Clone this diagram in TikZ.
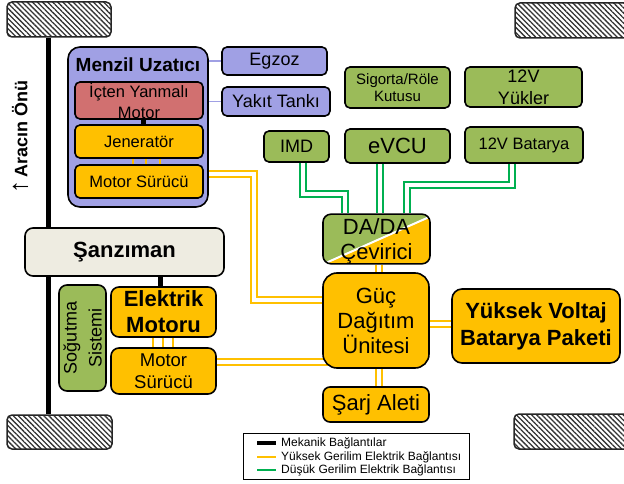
\documentclass[tikz,border=0pt]{standalone}
\usepackage{fontspec}
\setmainfont{Liberation Sans}
\usetikzlibrary{patterns.meta,calc}

\definecolor{menzilmor}{RGB}{160,160,228}
\definecolor{motorkirmizi}{RGB}{209,112,112}
\definecolor{turuncu}{RGB}{255,192,0}
\definecolor{yesil}{RGB}{155,187,89}
\definecolor{bej}{RGB}{238,236,225}
\definecolor{hatyesil}{RGB}{0,176,80}

\newcommand{\fs}[2]{\fontsize{#1}{#2}\selectfont}

\pgfdeclarelayer{arka}
\pgfdeclarelayer{hatlar}
\pgfsetlayers{arka,hatlar,main}

\begin{document}
\begin{tikzpicture}[x=1pt, y=-1pt,
    kutu/.style={draw=black, line width=1.6pt, rounded corners=5pt, inner sep=0pt, align=center},
    tekerlek/.style={draw=black!85, line width=1.5pt, rounded corners=5pt, pattern={Lines[angle=-45,distance=3.6pt,line width=1.3pt]}, pattern color=black!80},
    mekanik/.style={draw=black, line width=5pt},
    ygbag/.style={draw=turuncu, line width=2pt, double=white, double distance=4pt},
    dgbag/.style={draw=hatyesil, line width=2pt, double=white, double distance=4pt},
    morbag/.style={draw=menzilmor, line width=1.8pt},
    ucfaz/.style={draw=turuncu, line width=2pt},
  ]

  \useasboundingbox (0,0) rectangle (624,484);

  % Tekerlekler
  \begin{scope}
    \clip (0,0) rectangle (624,484);
    \node[tekerlek, minimum width=104pt, minimum height=35pt] (tekSolUst) at (59,19.5) {};
    \node[tekerlek, minimum width=135pt, minimum height=35pt] (tekSagUst) at (582.5,20.5) {};
    \node[tekerlek, minimum width=105pt, minimum height=34pt] (tekSolAlt) at (59.5,432) {};
    \node[tekerlek, minimum width=136pt, minimum height=35pt] (tekSagAlt) at (582,431.5) {};
  \end{scope}

  \node[rotate=90, font=\bfseries\fs{18}{20}] (aracOnu) at (20,137) {{\fs{26}{20}↑}\,Aracın Önü};

  % Menzil uzatici
  \begin{pgfonlayer}{arka}
    \node[kutu, fill=menzilmor, rounded corners=12pt, minimum width=140pt, minimum height=160pt] (menzil) at (138,127) {};
  \end{pgfonlayer}
  \node[font=\bfseries\fs{19}{21}] (menzilBaslik) at (138,65) {Menzil Uzatıcı};
  \node[kutu, fill=motorkirmizi, minimum width=128pt, minimum height=37pt, font=\fs{16.5}{21}] (icm) at (139,100.5) {İçten Yanmalı\\Motor};
  \node[kutu, fill=turuncu, minimum width=128pt, minimum height=33pt, font=\fs{16.5}{19}] (jen) at (139,141.5) {Jeneratör};
  \node[kutu, fill=turuncu, minimum width=128pt, minimum height=33pt, font=\fs{16.5}{19}] (msA) at (139,181.5) {Motor Sürücü};

  \node[kutu, fill=menzilmor, minimum width=105pt, minimum height=28pt, font=\fs{18}{20}] (egzoz) at (274.5,61) {Egzoz};
  \node[kutu, fill=menzilmor, minimum width=108pt, minimum height=29pt, font=\fs{18}{20}] (yakit) at (276,101.5) {Yakıt Tankı};

  % Dusuk gerilim kutulari
  \node[kutu, fill=yesil, minimum width=105pt, minimum height=41pt, font=\fs{15}{17}] (sigorta) at (397.5,87.5) {Sigorta/Röle\\Kutusu};
  \node[kutu, fill=yesil, minimum width=117pt, minimum height=40pt, font=\fs{18}{22}] (yukler) at (523.5,87) {12V\\Yükler};
  \node[kutu, fill=yesil, minimum width=65pt, minimum height=31pt, font=\fs{18}{20}] (imd) at (296.5,146.5) {IMD};
  \node[kutu, fill=yesil, minimum width=105pt, minimum height=34pt, font=\fs{22}{24}] (evcu) at (397.5,146) {eVCU};
  \node[kutu, fill=yesil, minimum width=118pt, minimum height=36pt, font=\fs{16.5}{19}] (bat12) at (524,145) {12V Batarya};

  % Yuksek gerilim kutulari
  \node[kutu, fill=yesil, rounded corners=8pt, minimum width=107pt, minimum height=48pt, font=\fs{22}{25},
    path picture={
      \fill[turuncu] ($(path picture bounding box.center)+(-98,45)$) -- ($(path picture bounding box.center)+(100,-43)$)
        -- ($(path picture bounding box.center)+(100,45)$) -- cycle;
      \draw[white, line width=2pt] ($(path picture bounding box.center)+(-98,45)$) -- ($(path picture bounding box.center)+(100,-43)$);
    }] (dada) at (376.5,239) {\rule{0pt}{20pt}DA/DA\\Çevirici};
  \node[kutu, fill=turuncu, rounded corners=14pt, minimum width=106pt, minimum height=95pt, font=\fs{22}{25}] (gdu) at (376,320.5) {Güç\\Dağıtım\\Ünitesi};
  \node[kutu, fill=turuncu, rounded corners=10pt, minimum width=168pt, minimum height=74pt, font=\bfseries\fs{22}{27}] (yvbp) at (536,326) {Yüksek Voltaj\\Batarya Paketi};
  \node[kutu, fill=turuncu, rounded corners=7pt, minimum width=106pt, minimum height=35pt, font=\fs{22}{24}] (sarj) at (376,404.5) {Şarj Aleti};

  % Aktarma organlari
  \node[kutu, fill=bej, rounded corners=8pt, minimum width=199pt, minimum height=48pt, font=\bfseries\fs{22}{24}] (sanz) at (124.5,252) {Şanzıman};
  \node[kutu, fill=yesil, rounded corners=8pt, rotate=90, minimum width=106pt, minimum height=47pt, font=\fs{18}{25}] (sogutma) at (82.5,338) {Soğutma\\Sistemi};
  \node[kutu, fill=turuncu, rounded corners=8pt, minimum width=105pt, minimum height=50pt, font=\bfseries\fs{22}{26}] (emotor) at (163.5,312) {Elektrik\\Motoru};
  \node[kutu, fill=turuncu, rounded corners=8pt, minimum width=105pt, minimum height=46pt, font=\fs{18.5}{22}] (msB) at (163.5,371) {Motor\\Sürücü};

  % Baglantilar
  \begin{pgfonlayer}{hatlar}
    \draw[mekanik] (48.5,0 |- tekSolUst.south) -- (48.5,0 |- tekSolAlt.north);
    \draw[mekanik] (sanz.south -| 160,0) -- (emotor.north -| 160,0);
    \draw[mekanik] (icm.south -| 143,0) -- (jen.north -| 143,0);

    \draw[morbag] (menzil.east |- egzoz.west) -- (egzoz.west);
    \draw[morbag] (menzil.east |- yakit.west) -- (yakit.west);

    \foreach \fx in {133,146,160}
      \draw[ucfaz] (jen.south -| \fx,0) -- (msA.north -| \fx,0);
    \foreach \fx in {153,163,173}
      \draw[ucfaz] (emotor.south -| \fx,0) -- (msB.north -| \fx,0);

    \draw[ygbag] (menzil.east |- 0,174.5) -| (254,299.5) -- (gdu.center |- 0,299.5);
    \draw[ygbag] (msB.east |- 0,362) -- (gdu.center |- 0,362);
    \draw[ygbag] (gdu.center |- 0,324) -- (yvbp.west |- 0,324);
    \draw[ygbag] (gdu.center -| 378.5,0) -- (sarj.north -| 378.5,0);
    \draw[ygbag] (dada.south -| 378.5,0) -- (gdu.center -| 378.5,0);

    \draw[dgbag] (imd.south -| 302.5,0) |- (345,194) -- (dada.north -| 345,0);
    \draw[dgbag] (evcu.south -| 380,0) -- (dada.north -| 380,0);
    \draw[dgbag] (bat12.south -| 511.5,0) |- (406.5,185) -- (dada.north -| 406.5,0);
  \end{pgfonlayer}

  % Lejant
  \node[draw=black, line width=0.8pt, minimum width=226pt, minimum height=46pt, inner sep=0pt] (lejant) at (356,456) {};
  \foreach \ly/\lrenk/\lkal/\lmetin [count=\li] in {443/black/4pt/Mekanik Bağlantılar,
      457/turuncu/1.5pt/Yüksek Gerilim Elektrik Bağlantısı,
      470/hatyesil/1.5pt/Düşük Gerilim Elektrik Bağlantısı}{
    \coordinate (lejBas\li) at (257,\ly);
    \coordinate (lejSon\li) at (276,\ly);
    \draw[draw=\lrenk, line width=\lkal] (lejBas\li) -- (lejSon\li);
    \node[anchor=west, inner sep=0pt, font=\fs{12}{14}] (lejMetin\li) at (281,\ly) {\lmetin};
  }

\end{tikzpicture}
\end{document}
